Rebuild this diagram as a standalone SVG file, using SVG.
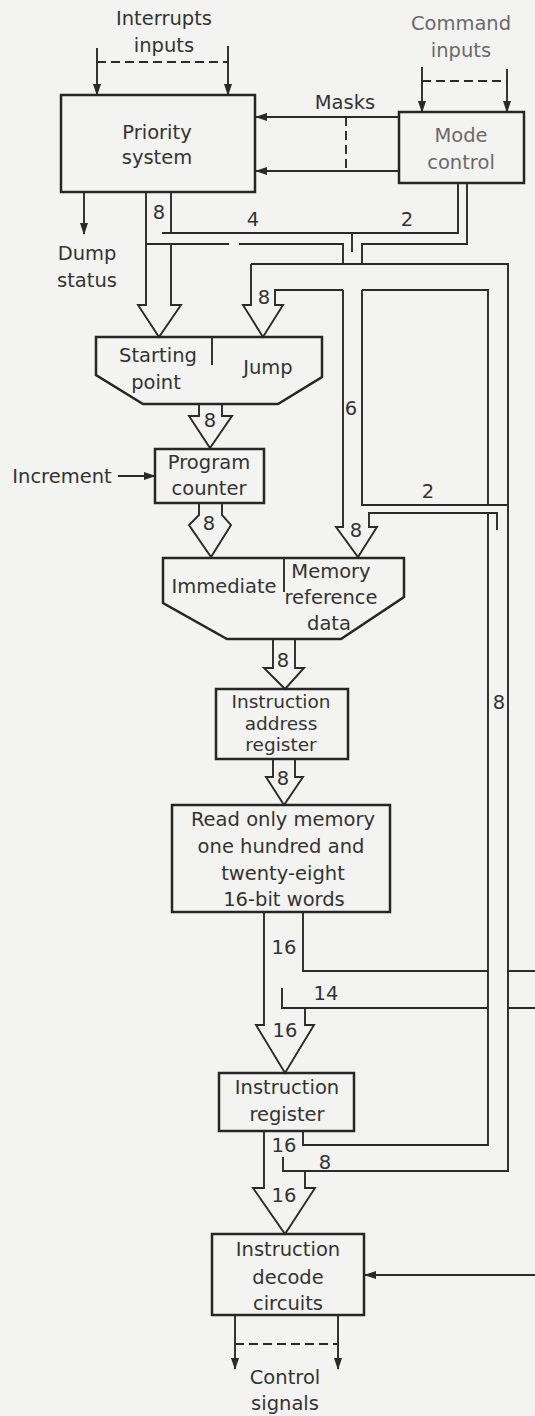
<svg xmlns="http://www.w3.org/2000/svg" width="535" height="1416" viewBox="0 0 535 1416">
<style>
.box{fill:none;stroke:#262626;stroke-width:2.5}
.ln{fill:none;stroke:#2a2a2a;stroke-width:1.9}
.hol{fill:none;stroke:#2a2a2a;stroke-width:1.9;stroke-linejoin:miter}
.dash{fill:none;stroke:#2a2a2a;stroke-width:1.9;stroke-dasharray:9 5}
.arr{fill:none;stroke:#2a2a2a;stroke-width:1.9;marker-end:url(#ah)}
text{font-family:"DejaVu Sans","Liberation Sans",sans-serif;font-size:19.5px;fill:#333;text-anchor:middle}
.lt{fill:#6a6a6a}
.sm{font-size:18.5px}
</style>
<defs>
<marker id="ah" markerUnits="userSpaceOnUse" markerWidth="12" markerHeight="8" refX="11" refY="4" orient="auto">
<path d="M0,0 L12,4 L0,8 z" fill="#2a2a2a"/>
</marker>
</defs>
<rect width="535" height="1416" fill="#f3f3f1"/>

<g id="connectors">
<!-- interrupts inputs -->
<line class="arr" x1="97" y1="48" x2="97" y2="95"/>
<line class="arr" x1="228" y1="46" x2="228" y2="95"/>
<line class="dash" x1="97" y1="62" x2="228" y2="62"/>
<!-- command inputs -->
<line class="arr" x1="422" y1="67" x2="422" y2="112"/>
<line class="arr" x1="507" y1="69" x2="507" y2="112"/>
<line class="dash" x1="422" y1="81" x2="507" y2="81"/>
<!-- masks -->
<line class="arr" x1="399" y1="117" x2="256" y2="117"/>
<line class="arr" x1="399" y1="171" x2="256" y2="171"/>
<line class="dash" x1="346" y1="117" x2="346" y2="171"/>
<!-- dump -->
<line class="arr" x1="84" y1="192" x2="84" y2="234"/>
<!-- priority 8 bus -->
<path class="ln" d="M171,192 V233"/>
<path class="hol" d="M146,192 V305 H138 L159,337 L181,305 H171 V244"/>
<path class="ln" d="M162,233 H458 V183"/>
<path class="ln" d="M146,244 H229 M239,244 H343 V264"/>
<path class="ln" d="M467,183 V244 H362 V264"/>
<path class="ln" d="M352,233 V252"/>
<!-- jump bus -->
<path class="ln" d="M251,264 H508 V1171 H283 V1157"/>
<path class="hol" d="M251,264 V305 H243 L263,337 L283,305 H275 V290 H343"/>
<path class="ln" d="M362,290 H488 V505"/>
<!-- 6 bus and 2 branch into memory reference -->
<path class="ln" d="M362,290 V505 H508"/>
<path class="hol" d="M343,290 V527 H336 L358,557 L377,527 H369 V513 H497 V530"/>
<path class="ln" d="M488,513 V1145 H303 V1131"/>
<!-- mux1 to PC -->
<path class="hol" d="M199,404 V416 H189 L210,448 L232,416 H222 V404"/>
<!-- PC to mux2 -->
<path class="hol" d="M199,503 V515 L189,525 L211,557 L231,525 L222,515 V503"/>
<!-- mux2 to IAR -->
<path class="hol" d="M273,639 V668 H264 L285,689 L304,668 H295 V639"/>
<!-- IAR to ROM -->
<path class="hol" d="M273,759 V777 H266 L284,805 L303,777 H295 V759"/>
<!-- ROM to IR -->
<path class="ln" d="M303,912 V971 H488 M508,971 H535"/>
<path class="ln" d="M282,988 V1008 H488 M508,1008 H535"/>
<path class="hol" d="M264,912 V1025 H256 L285,1073 L314,1025 H305 V1008"/>
<!-- IR to decode -->
<path class="hol" d="M264,1131 V1188 H253 L285,1234 L315,1188 H305 V1171"/>
<!-- increment -->
<line class="arr" x1="118" y1="476" x2="155" y2="476"/>
<!-- decode input -->
<line class="arr" x1="535" y1="1275" x2="365" y2="1275"/>
<!-- control signals -->
<line class="arr" x1="235" y1="1315" x2="235" y2="1369"/>
<line class="arr" x1="338" y1="1315" x2="338" y2="1369"/>
<line class="dash" x1="235" y1="1344" x2="338" y2="1344"/>
</g>

<g id="priority">
<rect class="box" x="61" y="95" width="194" height="97"/>
<text x="157" y="139">Priority</text>
<text x="157" y="164">system</text>
</g>
<g id="mode">
<rect class="box" x="399" y="112" width="125" height="71"/>
<text class="lt" x="461" y="142">Mode</text>
<text class="lt" x="461" y="169">control</text>
</g>
<g id="mux1">
<path class="box" d="M96,337 H322 V377 L278,404 H143 L96,375 Z"/>
<line class="ln" x1="212" y1="337" x2="212" y2="365"/>
<text x="158" y="362">Starting</text>
<text x="156" y="389">point</text>
<text x="268" y="374">Jump</text>
</g>
<g id="pc">
<rect class="box" x="155" y="449" width="109" height="54"/>
<text x="209" y="469">Program</text>
<text x="209" y="495">counter</text>
</g>
<g id="mux2">
<path class="box" d="M163,558 H404 V597 L341,639 H227 L163,603 Z"/>
<line class="ln" x1="284" y1="558" x2="284" y2="592"/>
<text x="224" y="593">Immediate</text>
<text x="331" y="578">Memory</text>
<text x="331" y="604">reference</text>
<text x="329" y="630">data</text>
</g>
<g id="iar">
<rect class="box" x="216" y="689" width="132" height="70"/>
<text class="sm" x="281" y="708">Instruction</text>
<text class="sm" x="281" y="729.5">address</text>
<text class="sm" x="281" y="751">register</text>
</g>
<g id="rom">
<rect class="box" x="172" y="805" width="218" height="107"/>
<text x="283" y="826">Read only memory</text>
<text x="281" y="853">one hundred and</text>
<text x="283" y="880">twenty-eight</text>
<text x="284" y="906">16-bit words</text>
</g>
<g id="ir">
<rect class="box" x="219" y="1073" width="135" height="58"/>
<text x="287" y="1094">Instruction</text>
<text x="287" y="1121">register</text>
</g>
<g id="decode">
<rect class="box" x="212" y="1234" width="152" height="81"/>
<text x="288" y="1256">Instruction</text>
<text x="288" y="1284">decode</text>
<text x="288" y="1310">circuits</text>
</g>

<g id="labels">
<text x="164" y="25">Interrupts</text>
<text x="164" y="52">inputs</text>
<text class="lt" x="461" y="30">Command</text>
<text class="lt" x="461" y="57">inputs</text>
<text x="345" y="109">Masks</text>
<text x="87" y="260">Dump</text>
<text x="87" y="287">status</text>
<text x="62" y="483">Increment</text>
<text x="159" y="219">8</text>
<text x="253" y="226">4</text>
<text x="407" y="226">2</text>
<text x="264" y="304">8</text>
<text x="351" y="415">6</text>
<text x="210" y="427">8</text>
<text x="428" y="498">2</text>
<text x="209" y="530">8</text>
<text x="356" y="537">8</text>
<text x="283" y="667">8</text>
<text x="499" y="709">8</text>
<text x="283" y="785">8</text>
<text x="284" y="954">16</text>
<text x="326" y="1000">14</text>
<text x="285" y="1037">16</text>
<text x="284" y="1152">16</text>
<text x="325" y="1169">8</text>
<text x="284" y="1202">16</text>
<text x="285" y="1384">Control</text>
<text x="285" y="1410">signals</text>
</g>
</svg>
